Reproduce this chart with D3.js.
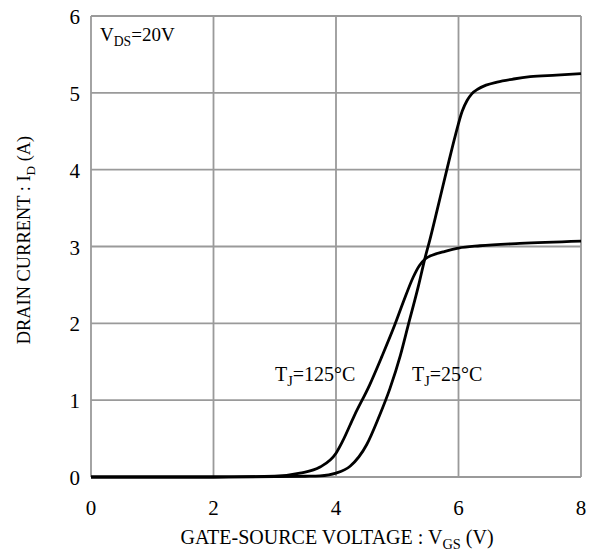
<!DOCTYPE html>
<html>
<head>
<meta charset="utf-8">
<script src="https://cdn.jsdelivr.net/npm/d3@7"></script>
<style>
  body { margin: 0; background: #fff; }
  text { font-family: "Liberation Serif", "Times New Roman", serif; fill: #000; }
</style>
</head>
<body>
<svg id="chart" width="594" height="554"></svg>
<script>
// gate voltage (V) vs drain current (A)
var vgs25  = [0, 1, 2, 3, 3.5, 3.74, 4.0, 4.23, 4.5, 4.7, 4.88, 5.05, 5.18, 5.35, 5.45, 5.53, 5.65, 5.81, 5.95, 6.06, 6.14, 6.22, 6.32, 6.45, 6.63, 6.9, 7.17, 7.6, 8];
var id25   = [0, 0, 0, 0.005, 0.01, 0.015, 0.05, 0.14, 0.42, 0.78, 1.15, 1.58, 1.98, 2.5, 2.84, 3.08, 3.47, 4.0, 4.45, 4.76, 4.9, 4.99, 5.05, 5.1, 5.14, 5.18, 5.21, 5.23, 5.25];
var vgs125 = [0, 1, 2, 3, 3.41, 3.74, 4.0, 4.11, 4.3, 4.55, 4.75, 4.96, 5.1, 5.26, 5.36, 5.46, 5.58, 5.75, 6.0, 6.35, 7.0, 8];
var id125  = [0, 0, 0, 0.01, 0.05, 0.13, 0.31, 0.47, 0.8, 1.2, 1.57, 1.98, 2.28, 2.6, 2.75, 2.84, 2.89, 2.93, 2.98, 3.01, 3.04, 3.07];
var xTicks = [0, 2, 4, 6, 8];
var yTicks = [0, 1, 2, 3, 4, 5, 6];

var svg = d3.select("#chart");
var x = d3.scaleLinear().domain([0, 8]).range([91, 581]);
var y = d3.scaleLinear().domain([0, 6]).range([477, 16]);

// grid
svg.append("g").selectAll("line").data(xTicks).join("line")
  .attr("x1", function(d){ return x(d); }).attr("x2", function(d){ return x(d); })
  .attr("y1", y(0)).attr("y2", y(6))
  .attr("stroke", "#9a9a9a").attr("stroke-width", 1.8);
svg.append("g").selectAll("line").data(yTicks).join("line")
  .attr("y1", function(d){ return y(d); }).attr("y2", function(d){ return y(d); })
  .attr("x1", x(0)).attr("x2", x(8))
  .attr("stroke", "#9a9a9a").attr("stroke-width", 1.8);

// tick labels
svg.append("g").selectAll("text").data(xTicks).join("text")
  .attr("x", function(d){ return x(d); }).attr("y", y(0) + 38)
  .attr("text-anchor", "middle").style("font-size", "21px")
  .text(function(d){ return d; });
svg.append("g").selectAll("text").data(yTicks).join("text")
  .attr("x", x(0) - 11).attr("y", function(d){ return y(d) + 8; })
  .attr("text-anchor", "end").style("font-size", "21px")
  .text(function(d){ return d; });

// curves
var line = d3.line().curve(d3.curveMonotoneX);
function draw(xs, ys) {
  svg.append("path")
    .attr("d", line(xs.map(function(v, i){ return [x(v), y(ys[i])]; })))
    .attr("fill", "none").attr("stroke", "#000").attr("stroke-width", 2.8);
}
draw(vgs25, id25);
draw(vgs125, id125);

// labels with subscripts
function label(px, py, parts, size, rotate) {
  var t = svg.append("text").attr("x", px).attr("y", py).style("font-size", size + "px");
  if (rotate) t.attr("transform", "rotate(-90," + px + "," + py + ")").attr("text-anchor", "middle");
  parts.forEach(function(p){
    var s = t.append("tspan").text(p[0]);
    if (p[1]) s.attr("dy", size * 0.25).style("font-size", (size * 0.72) + "px");
    else if (p[2]) s.attr("dy", -size * 0.25);
  });
  return t;
}
label(100, 41, [["V"], ["DS", 1], ["=20V", 0, 1]], 19);
label(275, 381, [["T"], ["J", 1], ["=125°C", 0, 1]], 20);
label(412, 381, [["T"], ["J", 1], ["=25°C", 0, 1]], 20);
label(337, 544, [["GATE-SOURCE VOLTAGE : V"], ["GS", 1], [" (V)", 0, 1]], 20).attr("text-anchor", "middle");
label(30, 240, [["DRAIN CURRENT : I"], ["D", 1], [" (A)", 0, 1]], 18.4, true);
</script>
</body>
</html>
